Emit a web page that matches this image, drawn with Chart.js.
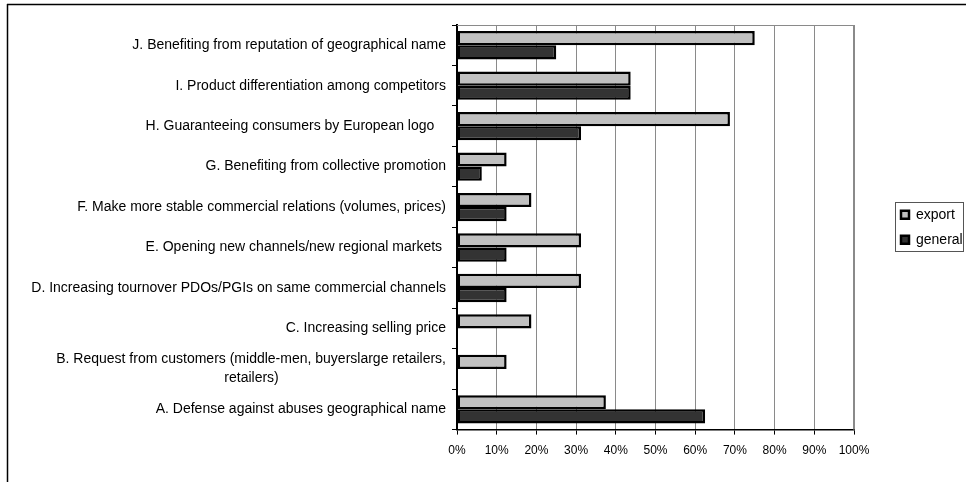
<!DOCTYPE html>
<html>
<head>
<meta charset="utf-8">
<script src="https://cdn.jsdelivr.net/npm/chart.js@4/dist/chart.umd.min.js"></script>
<style>
  html, body { margin: 0; padding: 0; background: #fff; }
  #wrap { width: 966px; height: 482px; position: relative; }
</style>
</head>
<body>
<div id="wrap"><canvas id="chart"></canvas></div>
<script>
// categories, top to bottom as in the picture
const categories = [
  'J. Benefiting from reputation of geographical name',
  'I. Product differentiation among competitors',
  'H. Guaranteeing consumers by European logo   ',
  'G. Benefiting from collective promotion',
  'F. Make more stable commercial relations (volumes, prices)',
  'E. Opening new channels/new regional markets ',
  'D. Increasing tournover PDOs/PGIs on same commercial channels',
  'C. Increasing selling price',
  ['B. Request from customers (middle-men, buyerslarge retailers,', 'retailers)'],
  'A. Defense against abuses geographical name'
]
const exportValues = [75, 43.75, 68.75, 12.5, 18.75, 31.25, 31.25, 18.75, 12.5, 37.5]
const generalValues = [25, 43.75, 31.25, 6.25, 12.5, 12.5, 12.5, 0, 0, 62.5]
const seriesNames = ['export', 'general']
const xTicks = [0, 10, 20, 30, 40, 50, 60, 70, 80, 90, 100]

const FONT = '"Liberation Sans", Arial, sans-serif'
Chart.defaults.font.family = FONT
Chart.defaults.color = '#000'

// centre the second line of a two-line label under the first one
const meas = document.createElement('canvas').getContext('2d')
meas.font = '14px ' + FONT
function centreLines(label) {
  if (!Array.isArray(label)) return label
  const w0 = meas.measureText(label[0]).width
  return label.map(line => {
    const gap = (w0 - meas.measureText(line).width) / 2
    const n = Math.max(0, Math.round(gap / meas.measureText(' ').width))
    return line + ' '.repeat(n)
  })
}

// outer frame + plot area outline + legend box
const decor = {
  id: 'decor',
  beforeDraw(chart) {
    const c = chart.ctx
    c.save()
    c.strokeStyle = '#000'
    c.lineWidth = 1.5
    c.beginPath()
    c.moveTo(7, 4.5); c.lineTo(chart.width, 4.5)
    c.moveTo(7.5, 4); c.lineTo(7.5, chart.height)
    c.stroke()
    c.restore()
  },
  beforeDatasetsDraw(chart) {
    const a = chart.chartArea, c = chart.ctx
    c.save()
    c.strokeStyle = '#8a8a8a'
    c.lineWidth = 1
    c.beginPath()
    c.moveTo(a.left, a.top + 0.5); c.lineTo(a.right, a.top + 0.5)
    c.stroke()
    c.lineWidth = 2
    c.beginPath()
    c.moveTo(a.right, a.top); c.lineTo(a.right, a.bottom)
    c.stroke()
    c.restore()
  },
  afterDraw(chart) {
    const lg = chart.legend
    if (!lg || !lg.legendHitBoxes.length) return
    const first = lg.legendHitBoxes[0]
    const c = chart.ctx
    c.save()
    c.strokeStyle = '#555'
    c.lineWidth = 1
    c.strokeRect(Math.round(first.left - 6) + 0.5, Math.round(first.top - 6) + 0.5, 68, 49)
    c.restore()
  }
}

new Chart(document.getElementById('chart'), {
  type: 'bar',
  data: {
    labels: categories,
    datasets: [
      {
        label: seriesNames[0],
        data: exportValues,
        backgroundColor: '#c0c0c0',
        borderColor: '#000',
        borderWidth: 2.5,
        borderSkipped: false,
        xAxisID: 'x', yAxisID: 'y'
      },
      {
        label: seriesNames[1],
        data: generalValues,
        backgroundColor: '#333333',
        borderColor: '#000',
        borderWidth: 2.5,
        borderSkipped: false,
        xAxisID: 'x', yAxisID: 'y'
      }
    ]
  },
  options: {
    indexAxis: 'y',
    responsive: true,
    maintainAspectRatio: false,
    animation: false,
    categoryPercentage: 0.7,
    barPercentage: 1.0,
    layout: { padding: { left: 30, top: 25, right: 1, bottom: 15 } },
    scales: {
      y: {
        position: 'left',
        grid: { drawOnChartArea: false, color: '#000', tickLength: 5, lineWidth: 1 },
        border: { color: '#000', width: 2 },
        ticks: {
          autoSkip: false,
          padding: 6,
          color: '#000',
          font: { size: 14, lineHeight: 1.33 },
          callback(v) { return centreLines(this.getLabelForValue(v)) }
        },
        afterFit(s) { s.width = 427 }
      },
      x: {
        min: xTicks[0],
        max: xTicks[xTicks.length - 1],
        afterBuildTicks(s) { s.ticks = xTicks.map(v => ({ value: v })) },
        grid: { color: '#8a8a8a', tickColor: '#000', tickLength: 5, lineWidth: 1 },
        border: { color: '#000', width: 1.5 },
        ticks: {
          padding: 9,
          color: '#000',
          font: { size: 12 },
          callback: v => v + '%'
        }
      },
      spacer: {
        type: 'linear',
        axis: 'y',
        position: 'right',
        grid: { display: false },
        border: { display: false },
        ticks: { display: false },
        afterFit(s) { s.width = 36 }
      }
    },
    plugins: {
      legend: {
        position: 'right',
        fullSize: false,
        align: 'center',
        maxWidth: 75,
        labels: {
          boxWidth: 8,
          boxHeight: 8,
          padding: 11,
          color: '#000',
          font: { size: 14 }
        }
      },
      tooltip: { enabled: false }
    }
  },
  plugins: [decor]
})
</script>
</body>
</html>
